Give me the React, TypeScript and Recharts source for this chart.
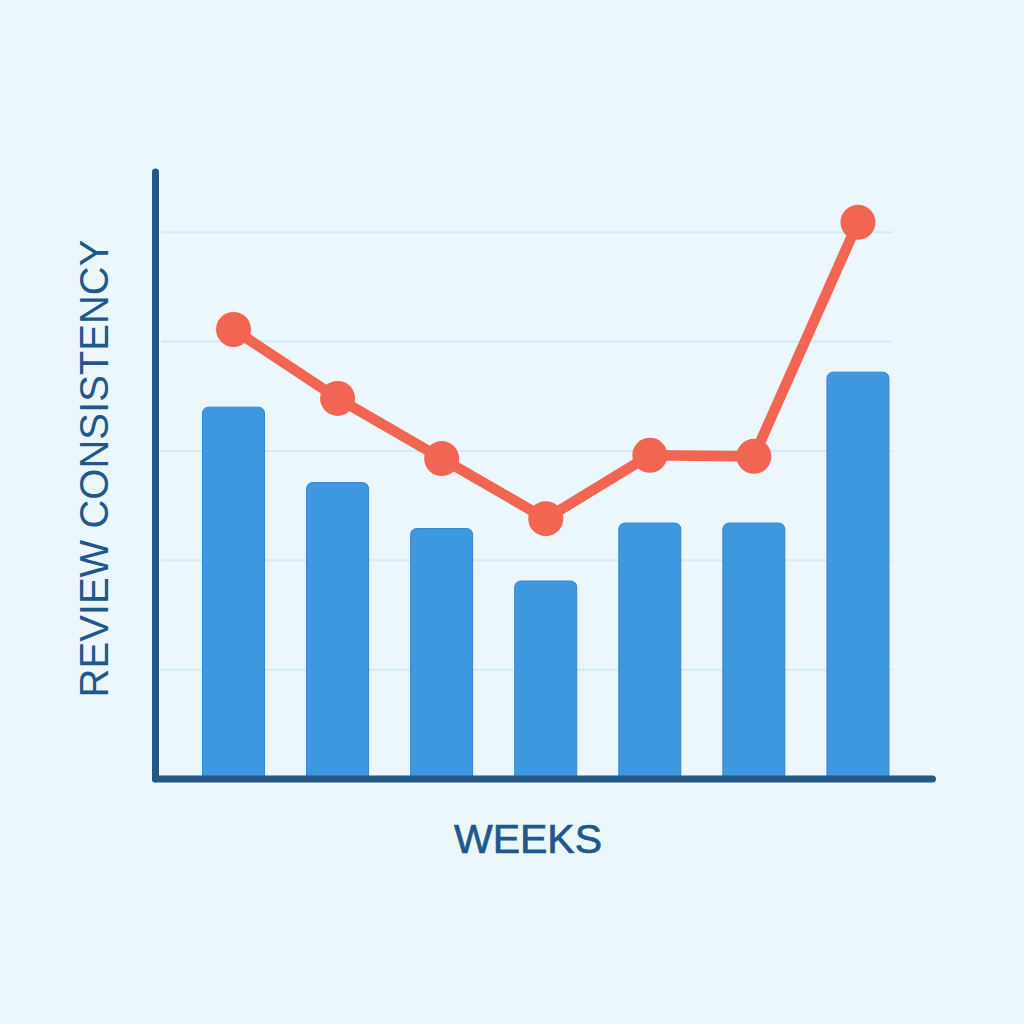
import { Bar, ComposedChart, Line, ReferenceLine, XAxis, YAxis } from "recharts";

const weeks = ["W1", "W2", "W3", "W4", "W5", "W6", "W7"];
const barValues = [3.4, 2.71, 2.29, 1.81, 2.34, 2.34, 3.72];
const lineValues = [4.11, 3.48, 2.93, 2.38, 2.96, 2.95, 5.09];
const gridTicks = [1, 2, 3, 4, 5];

const data = weeks.map((week, i) => ({ week, bar: barValues[i], line: lineValues[i] }));

const AXIS = "#235784";
const TEXT = "#21578a";
const BAR = "#3d98df";
const LINE = "#f26552";
const BG = "#ebf7fd";

// grid row, trimmed short of the x axis end like the original
const GridRow = (p: any) => (
    <line x1={p.x1 + 6} x2={p.x2 - 40} y1={p.y1} y2={p.y2} stroke="#d2ebf7" strokeWidth={2} />
);

export default function App() {
    return (
        <div style={{ position: "fixed", inset: 0, background: BG }}>
            <ComposedChart
                data={data}
                width={1024}
                height={1024}
                margin={{ top: 172, right: 91.5, bottom: 127, left: 32.5 }}
            >
                {gridTicks.map((t) => (
                    <ReferenceLine key={t} y={t} shape={GridRow} zIndex={-100} />
                ))}

                <Bar
                    dataKey="bar"
                    fill={BAR}
                    stroke="#2f88d2"
                    strokeWidth={1}
                    barSize={62}
                    radius={[6, 6, 0, 0]}
                    isAnimationActive={false}
                />

                <XAxis
                    dataKey="week"
                    height={118}
                    tick={false}
                    tickLine={false}
                    padding={{ left: 26, right: 22.5 }}
                    axisLine={{ stroke: AXIS, strokeWidth: 7, strokeLinecap: "round" }}
                    label={{
                        value: "WEEKS",
                        position: "center",
                        dx: -16,
                        fill: TEXT,
                        stroke: TEXT,
                        strokeWidth: 0.7,
                        fontSize: 41,
                        fontFamily: "Liberation Sans, Arial, sans-serif",
                    }}
                />
                <YAxis
                    width={123}
                    domain={[0, 5.55]}
                    ticks={gridTicks}
                    tick={false}
                    tickLine={false}
                    axisLine={{ stroke: AXIS, strokeWidth: 7, strokeLinecap: "round" }}
                    label={{
                        value: "REVIEW CONSISTENCY",
                        position: "center",
                        angle: -90,
                        dy: -7,
                        fill: TEXT,
                        fontSize: 40,
                        fontFamily: "Liberation Sans, Arial, sans-serif",
                    }}
                />

                <Line
                    type="linear"
                    dataKey="line"
                    stroke={LINE}
                    strokeWidth={10.5}
                    dot={{ r: 17.5, fill: LINE, stroke: "none" }}
                    activeDot={false}
                    isAnimationActive={false}
                />
            </ComposedChart>
        </div>
    );
}
